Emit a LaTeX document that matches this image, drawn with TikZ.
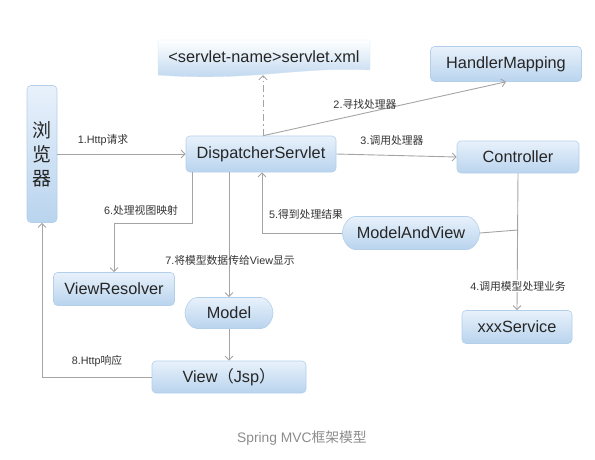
\documentclass[tikz,border=0pt]{standalone}
\usepackage{fontspec}
\setmainfont{Liberation Sans}
\newfontfamily\cjk{Noto Sans CJK SC}
\usepackage{tikz}
\usetikzlibrary{arrows.meta}
\usetikzlibrary{shapes.misc}

\definecolor{boxtop}{HTML}{E8F1FB}
\definecolor{boxbot}{HTML}{B9D4EE}
\definecolor{boxline}{HTML}{B3CFEA}
\definecolor{linegray}{HTML}{A4A4A4}
\definecolor{lbltext}{HTML}{333333}

\tikzset{
  box/.style={draw=boxline, line width=0.6pt, rounded corners=4pt, top color=boxtop, bottom color=boxbot,
    inner sep=0pt, font=\fontsize{16.3}{18}\selectfont, text=black!85},
  pill/.style={box, rounded rectangle},
  line/.style={draw=linegray, line width=0.9pt},
  arr/.style={line, -{Straight Barb[length=4pt,width=8pt]}},
  lbl/.style={font=\fontsize{10.8}{12}\selectfont, text=lbltext, inner sep=1pt},
}

\begin{document}
\begin{tikzpicture}[x=1pt,y=-1pt]
  \useasboundingbox (0,0) rectangle (595,459);
  % 配置文件
  \shade[top color=white, bottom color=boxbot, draw=boxline!60, line width=0.4pt]
    (158,40) -- (370,40) -- (370,70) .. controls (300,66) and (250,82) .. (158,75) -- cycle;
  \node (xml) at (264,57) [minimum width=212pt, minimum height=36pt, font=\fontsize{16.3}{18}\selectfont, text=black!85]
    {<servlet-name>servlet.xml};

  \node[box, minimum width=30pt, minimum height=137pt, align=center, font=\cjk\fontsize{19}{24}\selectfont] (browser) at (42,154) {浏\\览\\器};
  \node[box, minimum width=150pt, minimum height=36pt] (disp) at (261,154) {DispatcherServlet};
  \node[box, minimum width=151pt, minimum height=35pt] (hm) at (506,64) {HandlerMapping};
  \node[box, minimum width=122pt, minimum height=32pt] (ctrl) at (518,157) {Controller};
  \node[pill, minimum width=137pt, minimum height=33pt] (mav) at (411,233) {ModelAndView};
  \node[box, minimum width=121pt, minimum height=33pt] (vr) at (114,289) {ViewResolver};
  \node[pill, minimum width=88pt, minimum height=31pt] (model) at (229,313) {Model};
  \node[box, minimum width=154pt, minimum height=32pt] (view) at (229,377) {View{\cjk （}Jsp{\cjk ）}};
  \node[box, minimum width=110pt, minimum height=33pt] (svc) at (517,327) {xxxService};

  \coordinate (br) at (518,230);%分支点

  \draw[arr](browser.east)--(disp.west);%1
  \draw[arr]([xshift=2pt]disp.north)--(hm.south);%2
  \draw[arr,dash pattern=on 7pt off 3pt on 1.5pt off 3pt]([xshift=2pt]disp.north)--([xshift=2pt]disp.north |- xml.south);
  \draw[arr](disp.east)--(ctrl.west);%3
  \draw[arr](ctrl.south)--(svc.north);%4
  \draw[line](br)--(mav.east);
  \draw[arr](mav.west)-|([xshift=1pt]disp.south);%5
  \draw[arr]([xshift=-69pt]disp.south)--++(0,51)-|(vr.north);%6
  \draw[arr]([xshift=-32pt]disp.south)--(model.north);%7
  \draw[arr](model.south)--(view.north);
  \draw[arr](view.west)-|(browser.south);%8

  \node[lbl] (l1) at (103,140) {1.Http{\cjk 请求}};
  \node[lbl] (l2) at (365,104) {2.{\cjk 寻找处理器}};
  \node[lbl] (l3) at (392,140) {3.{\cjk 调用处理器}};
  \node[lbl, fill=white] (l4) at (518,286) {4.{\cjk 调用模型处理业务}};
  \node[lbl] (l5) at (306,214) {5.{\cjk 得到处理结果}};
  \node[lbl] (l6) at (141,210) {6.{\cjk 处理视图映射}};
  \node[lbl] (l7) at (230,260) {7.{\cjk 将模型数据传给}View{\cjk 显示}};
  \node[lbl] (l8) at (97,361) {8.Http{\cjk 响应}};

  \node[font=\fontsize{13.8}{16}\selectfont, text=black!45] (cap) at (302,438) {Spring MVC{\cjk 框架模型}};
\end{tikzpicture}
\end{document}
